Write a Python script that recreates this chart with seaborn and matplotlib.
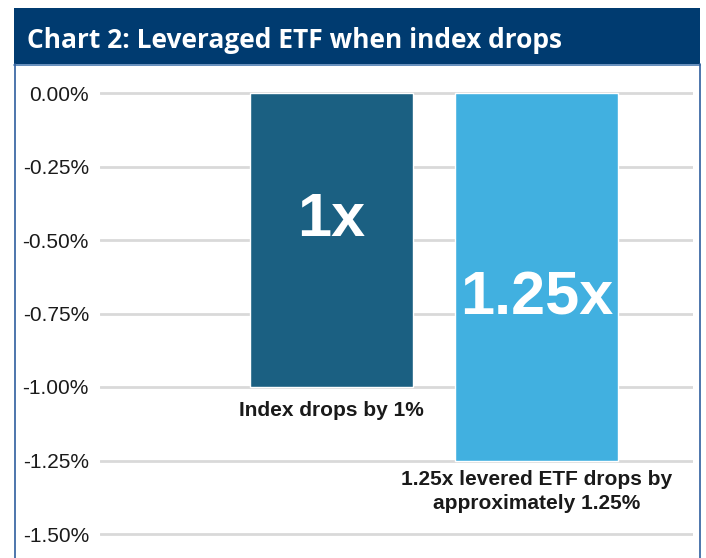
import matplotlib
matplotlib.use("Agg")
import matplotlib.pyplot as plt
import seaborn as sns
import pandas as pd
from matplotlib.patches import Rectangle
from matplotlib.lines import Line2D

categories = ["Index", "1.25x levered ETF"]
values = [-1.00, -1.25]
bar_labels = ["1x", "1.25x"]
notes = ["Index drops by 1%", "1.25x levered ETF drops by\napproximately 1.25%"]
yticks = [0.0, -0.25, -0.5, -0.75, -1.0, -1.25, -1.5]
title = "Chart 2: Leveraged ETF when index drops"
colors = ["#1B6082", "#41B0E0"]

sns.set_theme(style="white")
plt.rcParams["font.family"] = ["Liberation Sans", "DejaVu Sans"]

W, H = 706, 558
fig = plt.figure(figsize=(W / 100, H / 100), dpi=100)

def fx(px):
    return px / W

def fy(py):
    return 1 - py / H

# axes position: left 100px, right 693px, top 75px, bottom 558px
ax = fig.add_axes([fx(100), fy(558), fx(693) - fx(100), fy(75) - fy(558)])
df = pd.DataFrame({"cat": categories, "val": values})
sns.barplot(data=df, x="cat", y="val", hue="cat", palette=colors, legend=False,
            width=0.795, ax=ax, saturation=1)

ppu = (534 - 93) / 1.5
ax.set_ylim(-1.5 - (558 - 534) / ppu, 0 + (93 - 75) / ppu)
ax.set_xlim(-231.5 / 205, 1 + (693 - 536.5) / 205)
ax.set_yticks(yticks)
ax.set_yticklabels([f"{v:.2f}%" for v in yticks], fontsize=15, color="#1a1a1a")
ax.tick_params(axis="y", length=0, pad=8)
ax.set_xticks([])
ax.set_xlabel("")
ax.set_ylabel("")
for s in ax.spines.values():
    s.set_visible(False)
ax.yaxis.grid(True, color="#D9D9D9", linewidth=2)
ax.set_axisbelow(True)

label_y = [-0.435, -0.70]
for i, (lab, ly) in enumerate(zip(bar_labels, label_y)):
    ax.text(i, ly, lab, ha="center", va="center", color="white",
            fontsize=44, fontweight="bold")

note_y = [-1.08, -1.355]
for i, (nt, ny) in enumerate(zip(notes, note_y)):
    ax.text(i, ny, nt, ha="center", va="center", color="#1a1a1a",
            fontsize=15, fontweight="bold", linespacing=1.35)

# title banner
fig.patches.append(Rectangle((fx(14), fy(64)), fx(700) - fx(14), fy(8) - fy(64),
                             transform=fig.transFigure, facecolor="#003B70",
                             edgecolor="none", zorder=0))
fig.lines.append(Line2D([fx(14), fx(700)], [fy(64.5), fy(64.5)], transform=fig.transFigure,
                        color="#4A7AB0", linewidth=1.2))
fig.text(fx(27), fy(41), title, color="white", fontsize=19, fontweight="bold",
         family=["Open Sans", "DejaVu Sans"], va="center", ha="left")
# side borders
fig.lines.append(Line2D([fx(14.5), fx(14.5)], [fy(64), 0], transform=fig.transFigure,
                        color="#2F5F9E", linewidth=1.2))
fig.lines.append(Line2D([fx(699.5), fx(699.5)], [fy(64), 0], transform=fig.transFigure,
                        color="#2F5F9E", linewidth=1.2))

fig.savefig("out.png", dpi=100)
